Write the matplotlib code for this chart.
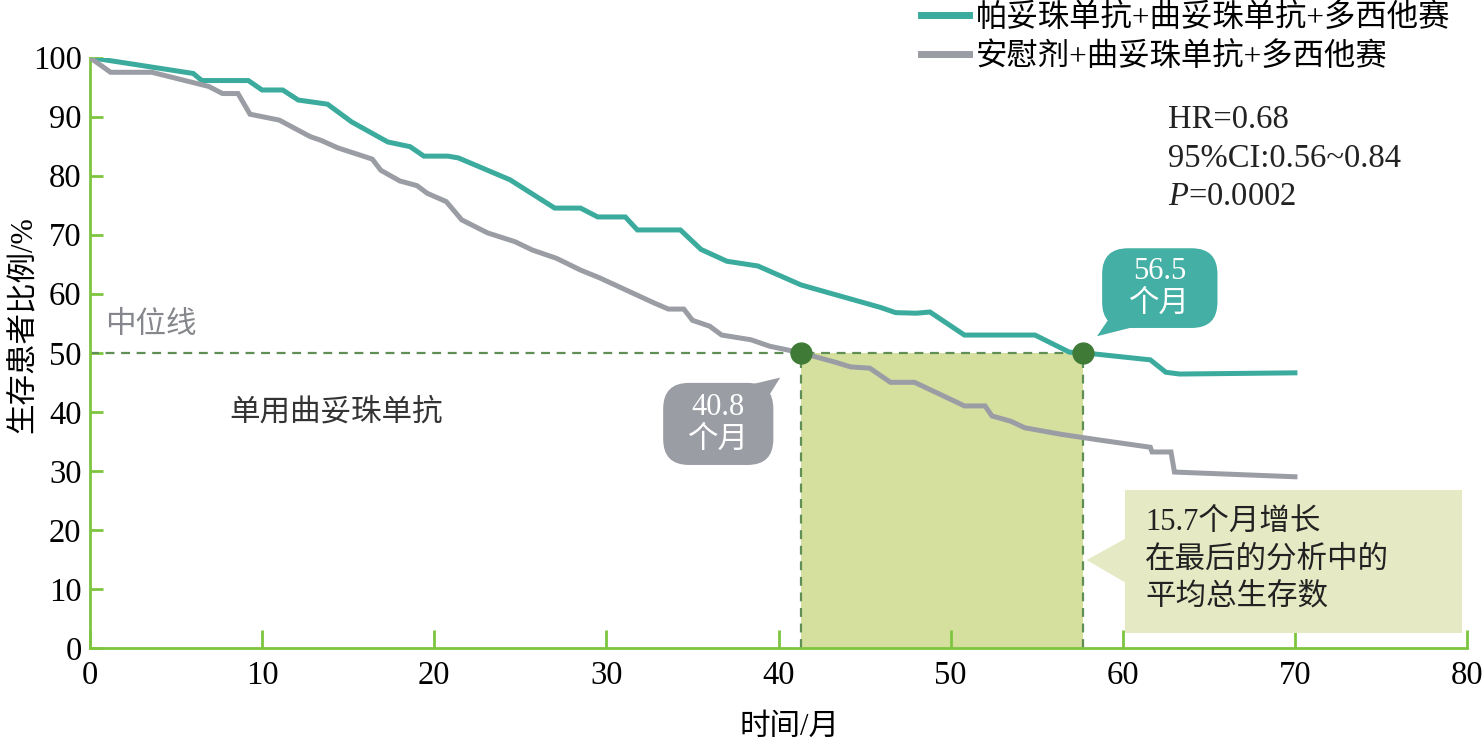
import numpy as np
import matplotlib.pyplot as plt
import matplotlib.patches as mpatches
from matplotlib.lines import Line2D

plt.rcParams['font.family'] = ['Liberation Serif', 'Noto Sans CJK SC']
plt.rcParams['mathtext.fontset'] = 'custom'
plt.rcParams['mathtext.rm'] = 'Liberation Serif'
plt.rcParams['mathtext.it'] = 'Liberation Serif:italic'

# survival curves (months, % alive)
teal_t = [0, 6.0, 6.5, 9.2, 10.0, 11.2, 12.1, 13.8, 15.2, 17.3, 18.6, 19.4, 20.8, 21.4,
          24.4, 27.0, 28.5, 29.5, 31.1, 31.8, 34.3, 35.5, 37.0, 38.8, 41.3, 42.5, 45.9,
          46.8, 48.0, 48.8, 50.8, 54.9, 56.9, 57.7, 61.6, 62.5, 63.3, 70.0]
teal_s = [100, 97.3, 96.1, 96.1, 94.5, 94.5, 92.8, 92.1, 89.1, 85.7, 84.9, 83.3, 83.3, 83.0,
          79.3, 74.5, 74.5, 73.0, 73.0, 70.8, 70.8, 67.5, 65.5, 64.7, 61.5, 60.5, 57.7,
          56.8, 56.7, 56.9, 53.0, 53.0, 50.1, 50.0, 48.8, 46.7, 46.4, 46.6]

gray_t = [0, 1.2, 3.6, 6.9, 7.7, 8.6, 9.3, 11.0, 12.8, 13.4, 14.4, 16.4, 16.9, 18.0, 19.0,
          19.6, 20.7, 21.6, 23.1, 24.7, 25.7, 27.1, 28.5, 29.6, 32.8, 33.6, 34.5, 35.0,
          36.0, 36.7, 38.4, 39.5, 41.3, 43.3, 44.2, 45.3, 46.5, 47.9, 50.3, 50.8, 52.0,
          52.4, 53.5, 54.3, 56.4, 58.7, 61.6, 61.7, 62.8, 63.0, 70.0]
gray_s = [100, 97.5, 97.5, 95.1, 93.9, 93.9, 90.4, 89.4, 86.6, 86.0, 84.7, 82.8, 80.9, 79.1,
          78.3, 77.0, 75.6, 72.5, 70.3, 68.8, 67.4, 66.0, 64.0, 62.7, 58.4, 57.4, 57.4,
          55.5, 54.5, 53.0, 52.2, 51.1, 50.0, 48.4, 47.6, 47.4, 45.0, 45.0, 41.7, 41.0,
          41.0, 39.3, 38.4, 37.3, 36.2, 35.2, 34.0, 33.2, 33.2, 29.8, 29.0]

labels = ['帕妥珠单抗+曲妥珠单抗+多西他赛', '安慰剂+曲妥珠单抗+多西他赛']
median_x = [41.3, 57.7]          # where the curves cross 50% in the picture
median_txt = ['40.8\n个月', '56.5\n个月']
stats = ['HR=0.68', '95%CI:0.56~0.84', r'$\mathit{P}$=0.0002']
gain_txt = ['15.7个月增长', '在最后的分析中的', '平均总生存数']
xticks = np.arange(0, 81, 10)
yticks = np.arange(0, 101, 10)

TEAL = '#3aab9d'
GRAY = '#9b9da4'
AXG = '#7ec53f'
DOT = '#3f7b36'
DASH = '#5f8f55'
FS = 22
NFS = 23.5   # serif numbers look a bit larger in the original

fig = plt.figure(figsize=(14.84, 7.47), dpi=100)
ax = fig.add_axes([0.0606, 0.1325, 0.928, 0.7905])
ax.set_xlim(0, 80)
ax.set_ylim(0, 100)

# shaded gain region + median guides
ax.add_patch(mpatches.Rectangle((median_x[0], 0), median_x[1] - median_x[0], 50,
                                fc='#d5e09f', ec='none', zorder=1))
ax.plot([0, median_x[1]], [50, 50], ls=(0, (4, 3)), color=DASH, lw=1.6, zorder=2)
for mx in median_x:
    ax.plot([mx, mx], [0, 50], ls=(0, (4, 3)), color=DASH, lw=1.6, zorder=2)

ax.plot(teal_t, teal_s, color=TEAL, lw=3.6, zorder=3, solid_joinstyle='miter')
ax.plot(gray_t, gray_s, color=GRAY, lw=3.6, zorder=3, solid_joinstyle='miter')
ax.plot(median_x, [50, 50], 'o', ms=15, color=DOT, zorder=5)

# axes styling
for s in ['top', 'right']:
    ax.spines[s].set_visible(False)
for s in ['left', 'bottom']:
    ax.spines[s].set_color(AXG)
    ax.spines[s].set_linewidth(2)
ax.set_xticks(xticks)
ax.set_yticks(yticks)
ax.tick_params(axis='y', direction='in', length=9, width=2, color=AXG, labelsize=NFS, pad=6)
ax.tick_params(axis='x', direction='in', length=13, width=2, color=AXG, labelsize=NFS, pad=9)
ax.set_xlabel('时间/月', fontsize=FS)
ax.set_ylabel('生存患者比例/%', fontsize=FS)
ax.xaxis.set_label_coords(0.508, -0.11)
ax.yaxis.set_label_coords(-0.038, 0.547)

# callouts with rounded boxes
p0 = ax.transData.transform((0, 0))
p1 = ax.transData.transform((1, 1))
asp = (p1[0] - p0[0]) / (p1[1] - p0[1])


def callout(x0, y0, w, h, tail, color, txt):
    ax.add_patch(mpatches.FancyBboxPatch((x0, y0), w, h,
                 boxstyle='round,pad=0,rounding_size=1.5', mutation_aspect=asp,
                 fc=color, ec='none', zorder=6))
    ax.add_patch(mpatches.Polygon(tail, closed=True, fc=color, ec='none', zorder=6))
    ax.text(x0 + w / 2, y0 + h / 2, txt, color='white', fontsize=FS,
            ha='center', va='center', linespacing=1.2, zorder=7)


callout(58.8, 54.2, 6.7, 13.5, [(59.6, 57.5), (61.5, 55.0), (58.5, 52.8)], '#44afa4', median_txt[1])
callout(33.3, 31.0, 6.4, 13.9, [(37.5, 44.0), (39.5, 43.0), (40.1, 45.8)], GRAY, median_txt[0])

# gain box
ax.add_patch(mpatches.Rectangle((60.1, 2.5), 19.6, 24.3, fc='#e5eac4', ec='none', zorder=4))
ax.add_patch(mpatches.Polygon([(60.2, 18.6), (60.2, 11.0), (57.9, 14.9)],
                              closed=True, fc='#e5eac4', ec='none', zorder=4))
for i, line in enumerate(gain_txt):
    ax.text(61.3, 21.2 - i * 6.3, line, fontsize=FS, color='#222222', va='center', zorder=5)

for i, line in enumerate(stats):
    ax.text(62.6, 89.4 - i * 6.5, line, fontsize=NFS, color='#222222', va='center')

ax.text(0.9, 54.7, '中位线', fontsize=FS, color='#85878c', va='center')
ax.text(8.1, 39.8, '单用曲妥珠单抗', fontsize=FS, color='#333333', va='center')

handles = [Line2D([], [], color=TEAL, lw=5), Line2D([], [], color=GRAY, lw=5)]
fig.legend(handles, labels, loc='upper right', bbox_to_anchor=(0.992, 1.025), frameon=False,
           fontsize=FS, handlelength=1.55, handletextpad=0.2, labelspacing=0.28,
           borderpad=0.2, prop={'size': FS + 0.6})

fig.savefig('out.png', dpi=100)
